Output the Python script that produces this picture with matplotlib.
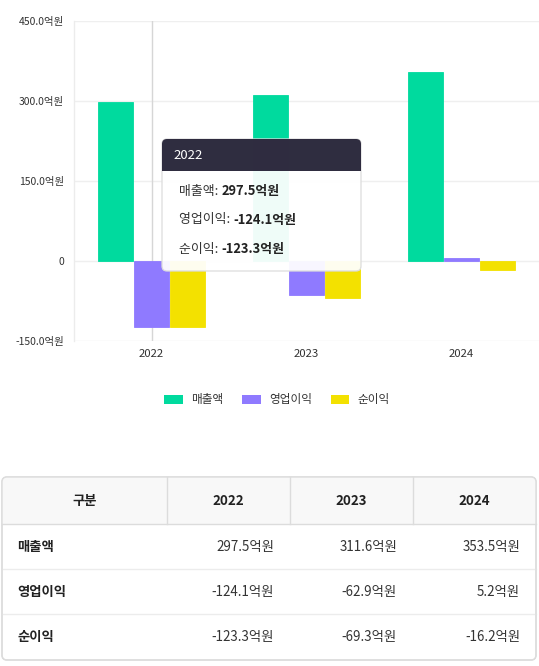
import matplotlib
matplotlib.use("Agg")
import matplotlib.pyplot as plt
import numpy as np
from matplotlib.patches import FancyBboxPatch, Rectangle, Patch

plt.rcParams['font.family'] = ['Noto Sans CJK KR', 'DejaVu Sans']

years = ['2022', '2023', '2024']
series_names = ['매출액', '영업이익', '순이익']
revenue = [297.5, 311.6, 353.5]
op_profit = [-124.1, -62.9, 5.2]
net_profit = [-123.3, -69.3, -16.2]
colors = ['#00DA9E', '#8F7AFF', '#F3E100']
y_ticks = [-150, 0, 150, 300, 450]
tooltip_year_index = 0

W, H = 539, 666
fig = plt.figure(figsize=(W / 100, H / 100), dpi=100)

def fx(px):
    return px / W

def fy(py):
    return 1 - py / H

# main chart axes (pixel box: x 74..539, y 21..341)
ax = fig.add_axes([fx(74), fy(341), fx(539) - fx(74), fy(21) - fy(341)])
ax.set_xlim(-0.5, 2.5)
ax.set_ylim(-150, 450)
x = np.arange(len(years))
bw = 0.22
step = 0.232
all_series = [revenue, op_profit, net_profit]
for i, (vals, c) in enumerate(zip(all_series, colors)):
    ax.bar(x + (i - 1) * step, vals, width=bw, color=c, zorder=3,
           edgecolor=c, linewidth=0.6)

ax.set_yticks(y_ticks)
ax.set_yticklabels([('0' if v == 0 else f'{v:.1f}억원') for v in y_ticks],
                   fontsize=7.5, color='#333333')
ax.set_xticks(x)
ax.set_xticklabels(years, fontsize=8.2, color='#333333')
ax.tick_params(axis='both', length=0)
ax.tick_params(axis='y', pad=7)
ax.tick_params(axis='x', pad=6)
for s in ['top', 'right', 'bottom']:
    ax.spines[s].set_visible(False)
ax.spines['left'].set_color('#ececec')
ax.spines['left'].set_linewidth(1)
ax.grid(axis='y', color='#efefef', linewidth=1, zorder=0)
ax.set_axisbelow(True)
# hover cursor line
ax.axvline(x[tooltip_year_index], color='#d6d6d6', linewidth=1, zorder=1)

# legend
handles = [Patch(facecolor=c, edgecolor='none') for c in colors]
fig.legend(handles, series_names, loc='center', bbox_to_anchor=(fx(277), fy(400)),
           ncol=3, frameon=False, fontsize=8.4, handlelength=1.6, handleheight=0.9,
           handletextpad=0.7, columnspacing=1.6, labelcolor='#333333')

# overlay axes in pixel coordinates
ov = fig.add_axes([0, 0, 1, 1], zorder=10)
ov.set_xlim(0, W)
ov.set_ylim(H, 0)
ov.axis('off')

# tooltip
tx0, ty0, tx1, ty1 = 162, 139, 361, 271
hdr = 171
body = FancyBboxPatch((tx0, ty0), tx1 - tx0, ty1 - ty0,
                      boxstyle='round,pad=0,rounding_size=5',
                      facecolor=(1, 1, 1, 0.94), edgecolor='#dcdcdc', linewidth=0.9)
ov.add_patch(body)
header = Rectangle((tx0, ty0), tx1 - tx0, hdr - ty0,
                   facecolor=(0.14, 0.13, 0.21, 0.95), edgecolor='none')
ov.add_patch(header)
header.set_clip_path(body)
i0 = tooltip_year_index
ov.text(tx0 + 11, (ty0 + hdr) / 2 + 0.5, years[i0], color='white', fontsize=9.5,
        va='center', ha='left')
row_y = [191, 220, 249]
for name, vals, yy in zip(series_names, all_series, row_y):
    t = ov.text(tx0 + 17, yy, f'{name}: ', fontsize=9.3, color='#333333',
                va='center', ha='left')
    ov.annotate(f'{vals[i0]:.1f}억원', xy=(1, 0.5), xycoords=t, va='center', ha='left',
                fontsize=9.3, color='#222222', fontweight='bold')

# table
bx0, by0, bx1, by1 = 2, 477, 536, 660
col_edges = [bx0, 167, 290, 413, bx1]
row_edges = [by0, 524, 569, 614, by1]
border = '#dcdcdc'
tbl = FancyBboxPatch((bx0, by0), bx1 - bx0, by1 - by0,
                     boxstyle='round,pad=0,rounding_size=5',
                     facecolor='white', edgecolor=border, linewidth=1, zorder=1)
ov.add_patch(tbl)
hbg = Rectangle((bx0, by0), bx1 - bx0, row_edges[1] - by0, facecolor='#f8f8f8',
                edgecolor='none', zorder=1.5)
ov.add_patch(hbg)
hbg.set_clip_path(tbl)
tbl_edge = FancyBboxPatch((bx0, by0), bx1 - bx0, by1 - by0,
                          boxstyle='round,pad=0,rounding_size=5',
                          facecolor='none', edgecolor=border, linewidth=1, zorder=3)
ov.add_patch(tbl_edge)
for ce in col_edges[1:-1]:
    ov.plot([ce, ce], [by0, row_edges[1]], color=border, linewidth=1, zorder=2)
ov.plot([bx0, bx1], [row_edges[1], row_edges[1]], color=border, linewidth=1, zorder=2)
for re in row_edges[2:-1]:
    ov.plot([bx0, bx1], [re, re], color='#ececec', linewidth=1, zorder=2)

headers = ['구분'] + years
for j, h in enumerate(headers):
    cx = (col_edges[j] + col_edges[j + 1]) / 2
    ov.text(cx, (row_edges[0] + row_edges[1]) / 2 + 0.5, h, ha='center', va='center',
            fontsize=9.6, fontweight='bold', color='#222222', zorder=4)
for r, (name, vals) in enumerate(zip(series_names, all_series)):
    cy = (row_edges[r + 1] + row_edges[r + 2]) / 2 + 0.5
    ov.text(17, cy, name, ha='left', va='center', fontsize=9.6, fontweight='bold',
            color='#222222', zorder=4)
    for j, v in enumerate(vals):
        ov.text(col_edges[j + 2] - 16, cy, f'{v:.1f}억원', ha='right', va='center',
                fontsize=9.6, color='#333333', zorder=4)

fig.savefig('out.png', dpi=100, facecolor='white')
